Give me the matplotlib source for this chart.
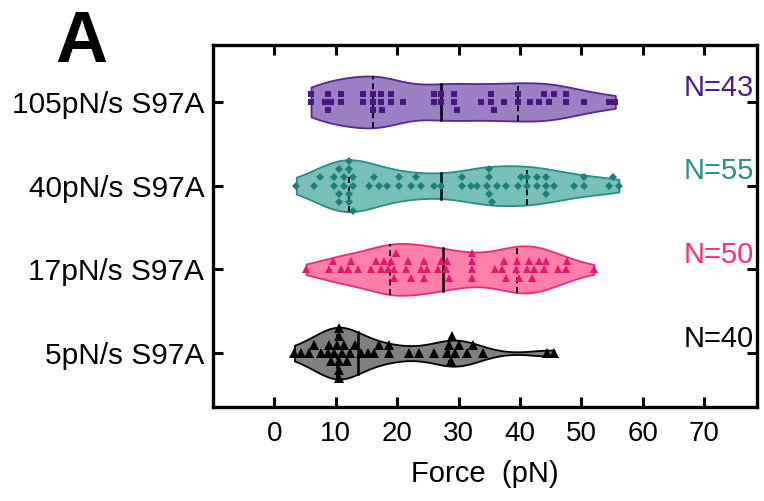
import numpy as np
import matplotlib.pyplot as plt

plt.rcParams["font.family"] = ["Liberation Sans", "DejaVu Sans"]

# -----------------------------
# Rupture forces (pN) per loading rate
# -----------------------------
labels = ["5pN/s S97A", "17pN/s S97A", "40pN/s S97A", "105pN/s S97A"]

force_5 = [3.3, 4.4, 5.7, 6.5, 7.6, 8.7, 9.0, 9.3, 9.8, 10.2,
           10.6, 10.6, 10.6, 10.6, 10.6, 11.0, 11.4, 11.8, 12.4, 13.2,
           14.1, 15.2, 16.3, 17.1, 18.7, 18.7, 22.0, 23.6, 26.0, 28.2,
           28.5, 28.7, 29.0, 29.5, 30.1, 31.4, 32.3, 33.9, 44.4, 45.5]

force_17 = [5.2, 9.0, 9.5, 10.9, 12.0, 12.5, 13.6, 15.7, 16.6, 17.4,
            17.9, 18.5, 19.0, 19.5, 19.5, 19.8, 21.4, 21.7, 22.2, 23.9,
            24.4, 24.4, 24.9, 26.6, 27.1, 27.9, 28.2, 28.5, 32.2, 32.2,
            32.2, 32.2, 36.0, 37.1, 37.4, 37.7, 39.3, 39.5, 39.8, 41.2,
            41.4, 42.0, 42.3, 43.1, 43.9, 44.2, 46.1, 47.4, 47.7, 52.0]

force_40 = [3.6, 6.5, 7.4, 9.8, 9.8, 10.6, 10.6, 10.6, 11.4, 11.4,
            12.2, 12.2, 12.2, 12.2, 12.8, 12.8, 12.8, 15.5, 16.3, 17.1,
            18.3, 20.3, 20.3, 22.2, 23.1, 23.9, 26.0, 27.2, 30.6, 30.6,
            32.0, 33.0, 34.7, 35.0, 35.0, 35.0, 35.5, 36.3, 37.7, 39.6,
            40.2, 41.2, 41.2, 42.8, 42.8, 44.2, 44.2, 44.2, 45.5, 48.8,
            50.4, 50.4, 54.4, 55.2, 56.1]

force_105 = [6.0, 6.0, 8.2, 8.7, 8.7, 9.3, 10.8, 10.8, 14.4, 14.4,
             16.0, 16.0, 16.0, 17.4, 17.4, 17.6, 19.0, 19.0, 20.9, 26.0,
             26.0, 27.1, 27.1, 29.3, 29.3, 29.8, 33.6, 35.2, 35.2, 35.8,
             37.4, 39.6, 39.6, 41.7, 43.1, 43.9, 44.7, 45.5, 47.4, 47.4,
             50.4, 54.4, 55.5]

groups = [force_5, force_17, force_40, force_105]

# -----------------------------
# Styles
# -----------------------------
fill_colors = ["#7f7f7f", "#ff7fab", "#79bfb9", "#9c80c3"]
edge_colors = ["#000000", "#ee2a80", "#2a8c86", "#55288f"]
point_colors = ["#000000", "#e8156f", "#1c7f78", "#48167f"]
text_colors = ["#000000", "#ff2a86", "#2a8f8b", "#4b1a8c"]
markers = ["^", "^", "D", "s"]
marker_sizes = [7.0, 6.0, 4.5, 5.0]

half_width = 0.31
bw_factor = 0.3


def kde_half_width(values, grid):
    vals = np.asarray(values)
    bw = bw_factor * vals.std(ddof=1)
    dens = np.exp(-0.5 * ((grid[:, None] - vals[None, :]) / bw) ** 2).sum(axis=1)
    return half_width * dens / dens.max()


def swarm_offsets(values, dx, dy):
    values = np.asarray(values)
    offsets = np.zeros(len(values))
    slots = [0] + [s * k for k in range(1, 20) for s in (1, -1)]
    placed = []
    for i in np.argsort(values, kind="stable"):
        for slot in slots:
            if not any(o == slot and abs(values[i] - p) < dx for p, o in placed):
                break
        placed.append((values[i], slot))
        offsets[i] = slot * dy
    return offsets


# -----------------------------
# Figure
# -----------------------------
fig = plt.figure(figsize=(7.64, 5.01), dpi=100)
ax = fig.add_axes([0.2784, 0.1882, 0.712, 0.722])

for pos, vals in enumerate(groups):
    vals = np.asarray(vals)
    grid = np.linspace(vals.min(), vals.max(), 300)
    hw = kde_half_width(vals, grid)

    ax.fill_between(grid, pos - hw, pos + hw,
                    facecolor=fill_colors[pos],
                    edgecolor=edge_colors[pos],
                    linewidth=1.3, zorder=2)

    q1, med, q3 = np.percentile(vals, [25, 50, 75], method="weibull")
    for q, style, lw in [(q1, (0, (3, 2)), 1.4), (med, "-", 1.8), (q3, (0, (3, 2)), 1.4)]:
        h = np.interp(q, grid, hw)
        ax.plot([q, q], [pos - h, pos + h], color="black",
                linestyle=style, linewidth=lw, zorder=3)

    offs = swarm_offsets(vals, dx=1.0, dy=0.1)
    ax.plot(vals, pos + offs, linestyle="none",
            marker=markers[pos], markersize=marker_sizes[pos],
            color=point_colors[pos], markeredgewidth=0, zorder=4)

    ax.text(78.0, pos + 0.17, f"N={len(vals)}",
            color=text_colors[pos], fontsize=21,
            ha="right", va="center")

# -----------------------------
# Axes
# -----------------------------
ax.set_xlim(-10, 78.5)
ax.set_ylim(-0.64, 3.68)

ax.set_xticks(range(0, 80, 10))
ax.set_yticks(range(len(labels)))
ax.set_yticklabels(labels)

ax.tick_params(axis="both", direction="in", length=7, width=2.2,
               top=True, right=True, labelsize=20)
ax.tick_params(axis="x", pad=10)
ax.tick_params(axis="y", pad=6, labelsize=21.5)

for spine in ax.spines.values():
    spine.set_linewidth(2.4)

ax.set_xlabel("Force  (pN)", fontsize=21, labelpad=10)

fig.text(0.1067, 0.876, "A", fontsize=52, fontweight="bold",
         ha="center", va="baseline")

fig.savefig("out.png", dpi=100)
